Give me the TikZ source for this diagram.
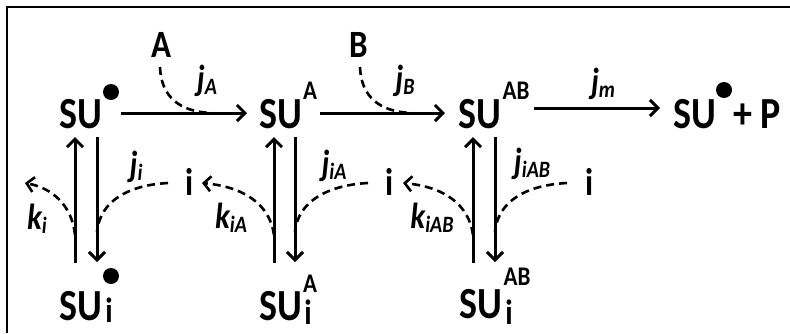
\documentclass[tikz,border=0pt]{standalone}
\usepackage{graphicx}
\usepackage{fontspec}
\setmainfont{Carlito}
\usetikzlibrary{arrows.meta}
\newcommand\stY[1]{\scalebox{1}[1.17]{#1}}
\newcommand\szSU{\fontsize{38}{38}\selectfont}
\newcommand\szSup{\fontsize{23}{23}\selectfont}
\newcommand\szLab{\fontsize{33}{33}\selectfont}
\newcommand\szSub{\fontsize{30}{30}\selectfont}
\newcommand\szJ{\fontsize{31}{31}\selectfont}
\newcommand\szJs{\fontsize{20}{20}\selectfont}
\newcommand\jlab[2]{\stY{{\szJ\bfseries\itshape #1}{\szJs\bfseries\itshape\raisebox{-3pt}{#2}}}}
\begin{document}
\begin{tikzpicture}[x=1pt,y=-1pt,
  txt/.style={inner sep=0pt,font=\bfseries\szSU},
  sup/.style={inner sep=0pt,font=\bfseries\szSup},
  lab/.style={inner sep=0pt,font=\bfseries\szLab},
  subs/.style={inner sep=0pt,font=\bfseries\szSub},
  rate/.style={inner sep=0pt},
  conn/.style={line width=3pt,-{Straight Barb[length=8pt,width=16pt,line width=3pt]}},
  dsh/.style={line width=2.6pt,dash pattern=on 8pt off 5pt},
  dsharr/.style={dsh,-{Straight Barb[length=7pt,width=15pt,line width=2.6pt]}},
  dotm/.style={circle,fill=black,inner sep=0pt,minimum size=16pt}]
\useasboundingbox (0,0) rectangle (790,333);
% frame
\draw[line width=2pt] (7,333) -- (7,7) -- (790,7);
% top row
\node[txt] (su0) at (81,114) {\stY{SU}};
\node[dotm] (dot0) at (111,92) {};
\node[txt] (sua) at (281,114) {\stY{SU}};
\node[sup] (supa) at (310,91) {\stY{A}};
\node[txt] (suab) at (480,114) {\stY{SU}};
\node[sup] (supab) at (516,91) {\stY{AB}};
\node[txt] (suf) at (695,114) {\stY{SU}};
\node[dotm] (dotf) at (724,90) {};
\node[txt] (plusp) at (757,114) {\stY{+ P}};
\node[lab] (A) at (161,45) {\stY{A}};
\node[lab] (B) at (359,45) {\stY{B}};
\node[rate] (jA) at (207,81) {\jlab{j}{A}};
\node[rate] (jB) at (405,81) {\jlab{j}{B}};
\node[rate] (jm) at (603,84) {\jlab{j}{m}};
% bottom row
\node[txt] (sui) at (81,306) {\stY{SU}};
\node[dotm] (doti) at (111,276) {};
\node[subs] (subi) at (109,310) {\stY{i}};
\node[txt] (suia) at (281,306) {\stY{SU}};
\node[sup] (supia) at (310,284) {\stY{A}};
\node[subs] (subia) at (308,312) {\stY{i}};
\node[txt] (suiab) at (481,304) {\stY{SU}};
\node[sup] (supiab) at (517,277) {\stY{AB}};
\node[subs] (subiab) at (509,312) {\stY{i}};
% inhibitors
\node[lab] (i1) at (190,182) {\stY{i}};
\node[lab] (i2) at (390,182) {\stY{i}};
\node[lab] (i3) at (590,182) {\stY{i}};
\node[rate] (ji) at (136,167) {\jlab{j}{i}};
\node[rate] (jiA) at (334,166) {\jlab{j}{iA}};
\node[rate] (jiAB) at (532,164) {\jlab{j}{iAB}};
\node[rate] (ki) at (37,219) {\jlab{k}{i}};
\node[rate] (kiA) at (231,218) {\jlab{k}{iA}};
\node[rate] (kiAB) at (432,218) {\jlab{k}{iAB}};
% connector end points
\coordinate (h1s) at (121,113); \coordinate (h1e) at (247,113);
\coordinate (h2s) at (320,113); \coordinate (h2e) at (445,113);
\coordinate (h3s) at (534,108); \coordinate (h3e) at (660,108);
\coordinate (u1s) at (75,263); \coordinate (u1e) at (75,137);
\coordinate (u2s) at (274,263); \coordinate (u2e) at (274,137);
\coordinate (u3s) at (473,263); \coordinate (u3e) at (473,137);
\coordinate (d1s) at (97,137); \coordinate (d1e) at (97,262);
\coordinate (d2s) at (295,137); \coordinate (d2e) at (295,262);
\coordinate (d3s) at (495,137); \coordinate (d3e) at (495,262);
\draw[conn] (h1s) -- (h1e);
\draw[conn] (h2s) -- (h2e);
\draw[conn] (h3s) -- (h3e);
\draw[conn] (u1s) -- (u1e);
\draw[conn] (u2s) -- (u2e);
\draw[conn] (u3s) -- (u3e);
\draw[conn] (d1s) -- (d1e);
\draw[conn] (d2s) -- (d2e);
\draw[conn] (d3s) -- (d3e);
% dashed binding curves
\coordinate (cA) at (160,67); \coordinate (cAe) at (212,113);
\coordinate (cB) at (360,67); \coordinate (cBe) at (412,113);
\draw[dsh] (cA) .. controls (161,97) and (180,112) .. (cAe);
\draw[dsh] (cB) .. controls (361,97) and (380,112) .. (cBe);
% inhibitor release (k) curves
\coordinate (k1s) at (75,235); \coordinate (k1e) at (25,183);
\coordinate (k2s) at (274,235); \coordinate (k2e) at (202,183);
\coordinate (k3s) at (473,235); \coordinate (k3e) at (403,183);
\draw[dsharr] (k1s) .. controls (72,205) and (52,188) .. (k1e);
\draw[dsharr] (k2s) .. controls (270,205) and (245,187) .. (k2e);
\draw[dsharr] (k3s) .. controls (469,205) and (445,187) .. (k3e);
% inhibitor binding (j) curves
\coordinate (j1s) at (168,183); \coordinate (j1e) at (97,232);
\coordinate (j2s) at (368,183); \coordinate (j2e) at (295,232);
\coordinate (j3s) at (567,183); \coordinate (j3e) at (495,232);
\draw[dsh] (j1s) .. controls (130,185) and (100,200) .. (j1e);
\draw[dsh] (j2s) .. controls (330,185) and (298,200) .. (j2e);
\draw[dsh] (j3s) .. controls (528,185) and (498,200) .. (j3e);
\end{tikzpicture}
\end{document}
